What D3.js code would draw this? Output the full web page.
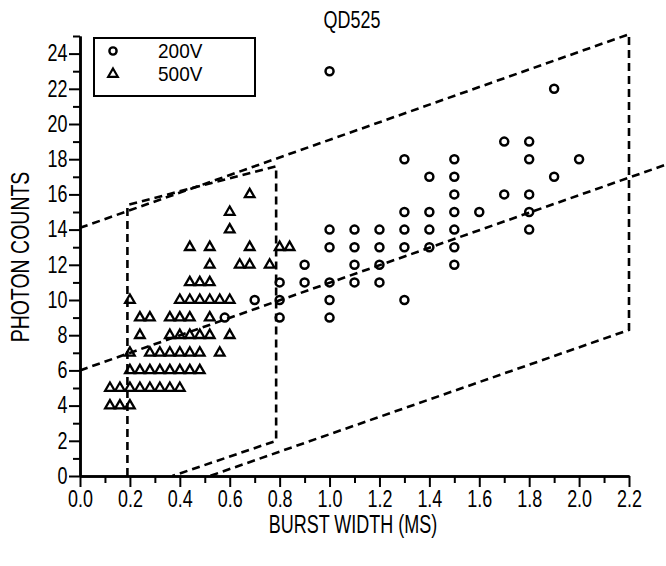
<!DOCTYPE html>
<html>
<head>
<meta charset="utf-8">
<script src="https://cdn.jsdelivr.net/npm/d3@7"></script>
<style>
  body { margin: 0; background: #fff; }
  svg text { font-family: "Liberation Sans", Arial, sans-serif; fill: #000; }
</style>
</head>
<body>
<svg id="canvas" width="666" height="566"></svg>
<script>
// 200V bursts (circles)
let width200 = [0.58, 0.7, 0.8, 0.8, 0.8, 0.9, 0.9, 1.0, 1.0, 1.0, 1.0, 1.0, 1.0,
  1.1, 1.1, 1.1, 1.1, 1.2, 1.2, 1.2, 1.2, 1.3, 1.3, 1.3, 1.3, 1.3,
  1.4, 1.4, 1.4, 1.4, 1.5, 1.5, 1.5, 1.5, 1.5, 1.5, 1.5, 1.6, 1.7, 1.7,
  1.8, 1.8, 1.8, 1.8, 1.8, 1.9, 1.9, 2.0]
let counts200 = [9, 10, 11, 10, 9, 12, 11, 23, 14, 13, 11, 10, 9,
  14, 13, 12, 11, 14, 13, 12, 11, 18, 15, 14, 13, 10,
  17, 15, 14, 13, 18, 17, 16, 15, 14, 13, 12, 15, 19, 16,
  19, 18, 16, 15, 14, 22, 17, 18]

// 500V bursts (triangles)
let width500 = [0.12, 0.16, 0.20,
  0.12, 0.16, 0.20, 0.24, 0.28, 0.32, 0.36, 0.40,
  0.20, 0.24, 0.28, 0.32, 0.36, 0.40, 0.44, 0.48,
  0.20, 0.28, 0.32, 0.36, 0.40, 0.44, 0.48, 0.56,
  0.24, 0.36, 0.40, 0.44, 0.48, 0.52, 0.60,
  0.24, 0.28, 0.36, 0.40, 0.44, 0.52,
  0.20, 0.40, 0.44, 0.48, 0.52, 0.56, 0.60,
  0.44, 0.48, 0.52,
  0.52, 0.64, 0.68, 0.76,
  0.44, 0.52, 0.68, 0.80, 0.84,
  0.60, 0.60, 0.68]
let counts500 = [4, 4, 4,
  5, 5, 5, 5, 5, 5, 5, 5,
  6, 6, 6, 6, 6, 6, 6, 6,
  7, 7, 7, 7, 7, 7, 7, 7,
  8, 8, 8, 8, 8, 8, 8,
  9, 9, 9, 9, 9, 9,
  10, 10, 10, 10, 10, 10, 10,
  11, 11, 11,
  12, 12, 12, 12,
  13, 13, 13, 13, 13,
  14, 15, 16]

// dashed guide lines, in data units
let outerBand = [[0, 14.1], [2.2, 25.1], [2.2, 8.3], [0.52, 0]]
let fitLine = [[0, 6.0], [2.35, 17.7]]
let innerBox = [[0.19, 0], [0.19, 15.4], [0.786, 17.6], [0.786, 2.0], [0.37, 0]]

let xMajor = [0, 0.2, 0.4, 0.6, 0.8, 1.0, 1.2, 1.4, 1.6, 1.8, 2.0, 2.2]
let xMinor = [0.1, 0.3, 0.5, 0.7, 0.9, 1.1, 1.3, 1.5, 1.7, 1.9, 2.1]
let yMajor = [0, 2, 4, 6, 8, 10, 12, 14, 16, 18, 20, 22, 24]
let yMinor = [1, 3, 5, 7, 9, 11, 13, 15, 17, 19, 21, 23, 25]

let legendItems = ['200V', '500V']

let svg = d3.select('#canvas')

let x = d3.scaleLinear().domain([0, 2.2]).range([80, 629])
let y = d3.scaleLinear().domain([0, 25]).range([476, 36])

// narrow look: squeeze Liberation Sans horizontally
let narrow = (k) => 'scale(' + k + ',1)'

let styleAxis = (g) => {
    g.select('.domain').attr('stroke', '#000').attr('stroke-width', 2.5)
    g.selectAll('.tick line').attr('stroke', '#000').attr('stroke-width', 2)
    g.selectAll('.tick text').attr('font-size', 23).attr('fill', '#000').attr('transform', narrow(0.78))
}

svg.append('g')
   .attr('transform', 'translate(0,' + y(0) + ')')
   .call(d3.axisBottom(x).tickValues(xMinor).tickSize(7).tickFormat('').tickSizeOuter(0))
   .call(styleAxis)
svg.append('g')
   .attr('transform', 'translate(0,' + y(0) + ')')
   .call(d3.axisBottom(x).tickValues(xMajor).tickSize(11).tickPadding(4).tickFormat(d3.format('.1f')).tickSizeOuter(0))
   .call(styleAxis)

svg.append('g')
   .attr('transform', 'translate(' + x(0) + ',0)')
   .call(d3.axisLeft(y).tickValues(yMinor).tickSize(7).tickFormat('').tickSizeOuter(0))
   .call(styleAxis)
let yAxis = svg.append('g')
   .attr('transform', 'translate(' + x(0) + ',0)')
   .call(d3.axisLeft(y).tickValues(yMajor).tickSize(11).tickSizeOuter(0))
   .call(styleAxis)
yAxis.selectAll('.tick text').attr('x', -16)

// dashed lines
let line = d3.line().x(d => x(d[0])).y(d => y(d[1]))
;[outerBand, fitLine, innerBox].forEach(pts => {
    svg.append('path')
       .attr('d', line(pts))
       .attr('fill', 'none')
       .attr('stroke', '#000')
       .attr('stroke-width', 2.6)
       .attr('stroke-dasharray', '8,5')
})

// points
let circles = width200.map((w, i) => [w, counts200[i]])
let triangles = width500.map((w, i) => [w, counts500[i]])

svg.selectAll('circle.p200')
   .data(circles)
   .enter()
   .append('circle')
   .attr('class', 'p200')
   .attr('cx', d => x(d[0]))
   .attr('cy', d => y(d[1]))
   .attr('r', 4)
   .attr('fill', 'none')
   .attr('stroke', '#000')
   .attr('stroke-width', 2.5)

let tri = d3.symbol().type(d3.symbolTriangle).size(40)
svg.selectAll('path.p500')
   .data(triangles)
   .enter()
   .append('path')
   .attr('class', 'p500')
   .attr('d', tri)
   .attr('transform', d => 'translate(' + x(d[0]) + ',' + y(d[1]) + ')')
   .attr('fill', 'none')
   .attr('stroke', '#000')
   .attr('stroke-width', 2.3)

// legend
let legend = svg.append('g')
legend.append('rect')
      .attr('x', 94).attr('y', 38).attr('width', 161).attr('height', 58)
      .attr('fill', '#fff').attr('stroke', '#000').attr('stroke-width', 2)
legend.append('circle')
      .attr('cx', 113).attr('cy', 51).attr('r', 3.6)
      .attr('fill', 'none').attr('stroke', '#000').attr('stroke-width', 2.4)
legend.append('path')
      .attr('d', tri).attr('transform', 'translate(113,74)')
      .attr('fill', 'none').attr('stroke', '#000').attr('stroke-width', 2.2)
legend.selectAll('text')
      .data(legendItems)
      .enter()
      .append('text')
      .attr('transform', (d, i) => 'translate(158,' + (58 + i * 23) + ') ' + narrow(0.95))
      .attr('font-size', 20)
      .text(d => d)

// titles
svg.append('text')
   .attr('transform', 'translate(352,28) ' + narrow(0.78))
   .attr('text-anchor', 'middle')
   .attr('font-size', 23)
   .text('QD525')

svg.append('text')
   .attr('transform', 'translate(353,533) ' + narrow(0.72))
   .attr('text-anchor', 'middle')
   .attr('font-size', 25)
   .text('BURST WIDTH (MS)')

svg.append('text')
   .attr('transform', 'translate(29,257) rotate(-90) ' + narrow(0.78))
   .attr('text-anchor', 'middle')
   .attr('font-size', 25)
   .text('PHOTON COUNTS')
</script>
</body>
</html>
